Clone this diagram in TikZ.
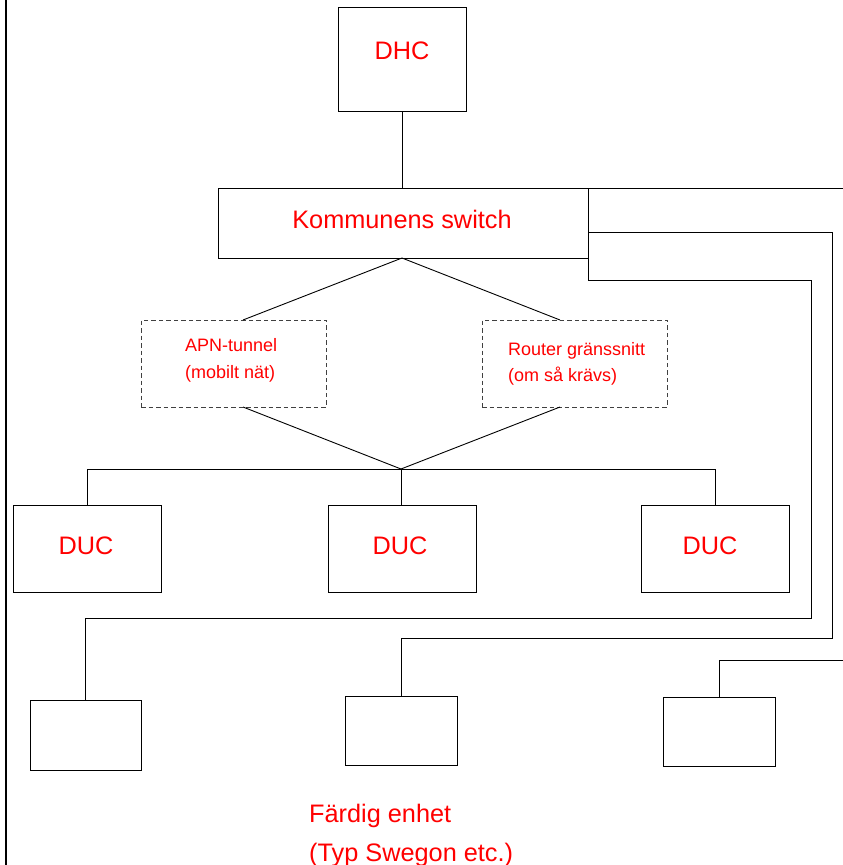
\documentclass[tikz,border=0pt]{standalone}
\usepackage{fontspec}
\setmainfont{Liberation Sans}
\begin{document}
\begin{tikzpicture}[x=1pt,y=-1pt,
  box/.style={draw=black,line width=0.9pt,inner sep=0pt,outer sep=0pt,rectangle},
  dbox/.style={draw=black!75,line width=0.9pt,dash pattern=on 4.5pt off 3pt,inner sep=0pt,outer sep=0pt,rectangle},
  conn/.style={draw=black,line width=0.9pt},
  big/.style={text=red,font=\fontsize{25.3}{30}\selectfont,inner sep=0pt},
  small/.style={text=red,font=\fontsize{18}{27}\selectfont,inner sep=0pt}]
\useasboundingbox (0,0) rectangle (843,865);
% left rule
\draw[line width=2pt] (6,0) -- (6,865);
% boxes
\node[box,minimum width=128pt,minimum height=104pt] (dhc) at (402,59) {};
\node[box,minimum width=370pt,minimum height=70pt] (sw) at (403,223) {};
\node[dbox,minimum width=185pt,minimum height=87pt] (apn) at (233.5,363.5) {};
\node[dbox,minimum width=185pt,minimum height=87pt] (rt) at (574.5,363.5) {};
\node[box,minimum width=148pt,minimum height=87pt] (duc1) at (87,548.5) {};
\node[box,minimum width=148pt,minimum height=87pt] (duc2) at (402,548.5) {};
\node[box,minimum width=148pt,minimum height=87pt] (duc3) at (715,548.5) {};
\node[box,minimum width=111pt,minimum height=70pt] (b1) at (85.5,735) {};
\node[box,minimum width=112pt,minimum height=69pt] (b2) at (401,730.5) {};
\node[box,minimum width=112pt,minimum height=69pt] (b3) at (719,731.5) {};
% texts
\node[big,anchor=base] (tdhc) at (402,59.5) {DHC};
\node[big,anchor=base] (tsw) at (402,228.5) {Kommunens switch};
\node[big,anchor=base] (td1) at (86,554) {DUC};
\node[big,anchor=base] (td2) at (400,554) {DUC};
\node[big,anchor=base] (td3) at (710,554) {DUC};
\node[small,anchor=base west] (ta1) at (185,351) {APN-tunnel};
\node[small,anchor=base west] (ta2) at (185,378) {(mobilt nät)};
\node[small,anchor=base west] (tr1) at (508,355) {Router gränssnitt};
\node[small,anchor=base west] (tr2) at (508,381) {(om så krävs)};
\node[big,anchor=base west] (tf1) at (309,822) {Färdig enhet};
\node[big,anchor=base west] (tf2) at (309,861) {(Typ Swegon etc.)};
% connectors
\draw[conn] (dhc.south) -- (sw.north -| dhc.south);
\coordinate (swb) at (402,258);
\draw[conn] (swb) -- ([xshift=102pt]apn.north west);
\draw[conn] (swb) -- ([xshift=78pt]rt.north west);
\coordinate (hub) at (401,469);
\draw[conn] ([xshift=102pt]apn.south west) -- (hub) -- ([xshift=78pt]rt.south west);
\draw[conn] (duc1.north) -- (duc1.north |- hub) -- (duc3.north |- hub) -- (duc3.north);
\draw[conn] (hub) -- (duc2.north -| hub);
% right-side links
\coordinate (r1a) at (588,280);
\coordinate (r1b) at (811,280);
\coordinate (r1c) at (811,618);
\draw[conn] (sw.south east) -- (r1a) -- (r1b) -- (r1c) -- (b1.north |- r1c) -- (b1.north);
\coordinate (r2a) at (588,232);
\coordinate (r2b) at (832,232);
\coordinate (r2c) at (832,638);
\draw[conn] (r2a) -- (r2b) -- (r2c) -- (b2.north |- r2c) -- (b2.north);
\coordinate (r3a) at (843,188);
\draw[conn] (sw.north east) -- (r3a);
\coordinate (r4a) at (843,660);
\draw[conn] (r4a) -- (b3.north |- r4a) -- (b3.north);
\end{tikzpicture}
\end{document}
